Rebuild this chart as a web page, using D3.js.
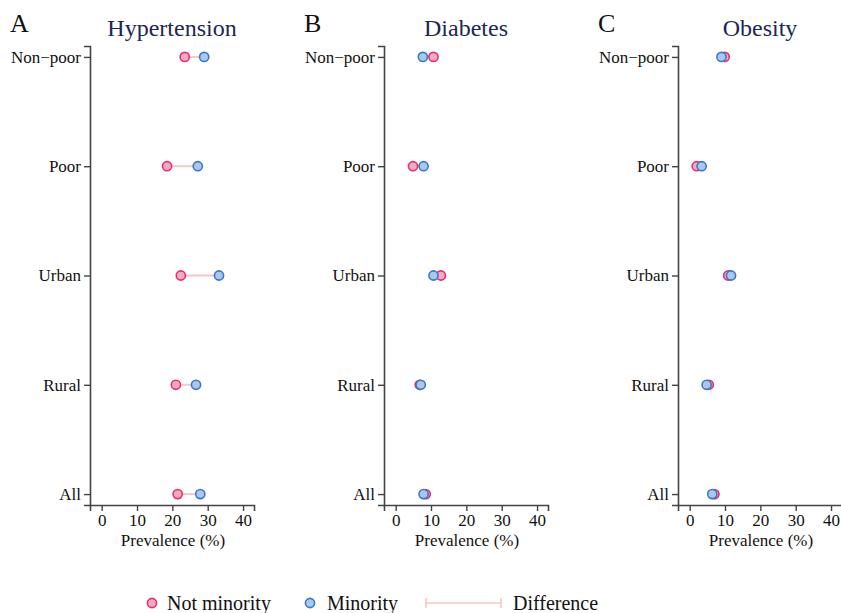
<!DOCTYPE html>
<html>
<head>
<meta charset="utf-8">
<script src="https://cdn.jsdelivr.net/npm/d3@7"></script>
<style>
  html, body { margin: 0; padding: 0; background: #fff; }
  svg { display: block; }
  svg text { font-family: "Liberation Serif", "Times New Roman", Times, serif !important; }
</style>
</head>
<body>
<svg id="chart" width="841" height="613"></svg>
<script>
// ---- Data ----
const categories = ["Non\u2212poor", "Poor", "Urban", "Rural", "All"];
const panelLetters = ["A", "B", "C"];
const panelTitles = ["Hypertension", "Diabetes", "Obesity"];
// Prevalence (%) per category, in the order of `categories`
const hypertensionNotMinority = [23.5, 18.5, 22.4, 21.0, 21.5];
const hypertensionMinority    = [29.0, 27.2, 33.2, 26.7, 27.9];
const diabetesNotMinority     = [10.7, 4.9, 12.8, 6.8, 8.5];
const diabetesMinority        = [7.7, 7.9, 10.7, 7.1, 7.9];
const obesityNotMinority      = [9.9, 2.0, 10.9, 5.4, 7.0];
const obesityMinority         = [9.0, 3.4, 11.7, 4.8, 6.4];
const xTicks = [0, 10, 20, 30, 40];
const xLabel = "Prevalence (%)";
const legendLabels = ["Not minority", "Minority", "Difference"];

const panels = [
  { notMin: hypertensionNotMinority, min: hypertensionMinority },
  { notMin: diabetesNotMinority, min: diabetesMinority },
  { notMin: obesityNotMinority, min: obesityMinority }
];

// ---- Styles ----
const FONT = "'Liberation Serif', 'Times New Roman', Times, serif";
const pinkStroke = "#e5306b", pinkFill = "#f5a9c3";
const blueStroke = "#3b78c8", blueFill = "#a8c8ee";
const diffColor = "#f8c6c6";
const axisColor = "#444";
const titleColor = "#1c2752";

const svg = d3.select("#chart");

const panelX0 = [90, 384, 678];
const axisTop = 46, axisBottom = 505;
const axisWidth = 164;

const y = d3.scalePoint().domain(categories).range([axisTop, axisBottom]).padding(0.1);

panels.forEach((p, i) => {
  const x0 = panelX0[i];
  const x = d3.scaleLinear().domain([-3.3, 43.1]).range([x0, x0 + axisWidth]);
  const g = svg.append("g");

  // y axis
  const ya = g.append("g").attr("transform", `translate(${x0},0)`)
    .call(d3.axisLeft(y).tickSizeOuter(0).tickSize(6).tickPadding(3));
  ya.attr("font-family", FONT).attr("font-size", 17);
  ya.select(".domain").attr("stroke", axisColor).attr("stroke-width", 1.6);
  ya.selectAll(".tick line").attr("stroke", axisColor).attr("stroke-width", 1.4);
  ya.selectAll(".tick text").style("font-size", "17px").attr("fill", "#111")
    .style("font-family", FONT);

  // x axis
  const xa = g.append("g").attr("transform", `translate(0,${axisBottom})`)
    .call(d3.axisBottom(x).tickValues(xTicks).tickSizeOuter(0).tickSize(6).tickPadding(3));
  xa.attr("font-family", FONT).attr("font-size", 17);
  xa.select(".domain").attr("stroke", axisColor).attr("stroke-width", 1.6);
  xa.selectAll(".tick line").attr("stroke", axisColor).attr("stroke-width", 1.4);
  xa.selectAll(".tick text").style("font-size", "17px").attr("fill", "#111")
    .style("font-family", FONT);

  // x label
  g.append("text").attr("x", x0 + axisWidth / 2 + 1).attr("y", 546)
    .attr("text-anchor", "middle").style("font-size", "17px").attr("fill", "#111")
    .style("font-family", FONT)
    .text(xLabel);

  // title
  g.append("text").attr("x", x0 + axisWidth / 2).attr("y", 36)
    .attr("text-anchor", "middle").style("font-size", "24px").attr("fill", titleColor)
    .style("font-family", FONT)
    .text(panelTitles[i]);

  // panel letter
  g.append("text").attr("x", x0 - 80).attr("y", 32)
    .style("font-size", "26px").attr("fill", "#111")
    .style("font-family", FONT)
    .text(panelLetters[i]);

  const rows = categories.map((c, j) => ({ c, a: p.notMin[j], b: p.min[j] }));

  // difference lines
  g.selectAll(".diff").data(rows).join("line")
    .attr("x1", d => x(d.a)).attr("x2", d => x(d.b))
    .attr("y1", d => y(d.c)).attr("y2", d => y(d.c))
    .attr("stroke", diffColor).attr("stroke-width", 2);

  // not minority
  g.selectAll(".nm").data(rows).join("circle")
    .attr("cx", d => x(d.a)).attr("cy", d => y(d.c)).attr("r", 4.6)
    .attr("fill", pinkFill).attr("stroke", pinkStroke).attr("stroke-width", 1.6);

  // minority
  g.selectAll(".mi").data(rows).join("circle")
    .attr("cx", d => x(d.b)).attr("cy", d => y(d.c)).attr("r", 4.6)
    .attr("fill", blueFill).attr("stroke", blueStroke).attr("stroke-width", 1.6);
});

// ---- Legend ----
const lg = svg.append("g").style("font-family", FONT);
const ly = 603;
lg.append("circle").attr("cx", 152).attr("cy", ly).attr("r", 4.6)
  .attr("fill", pinkFill).attr("stroke", pinkStroke).attr("stroke-width", 1.6);
lg.append("text").attr("x", 167).attr("y", ly + 7).style("font-size", "20px").attr("fill", "#111")
  .style("font-family", FONT).text(legendLabels[0]);
lg.append("circle").attr("cx", 310).attr("cy", ly).attr("r", 4.6)
  .attr("fill", blueFill).attr("stroke", blueStroke).attr("stroke-width", 1.6);
lg.append("text").attr("x", 327).attr("y", ly + 7).style("font-size", "20px").attr("fill", "#111")
  .style("font-family", FONT).text(legendLabels[1]);
lg.append("line").attr("x1", 426).attr("x2", 501).attr("y1", ly).attr("y2", ly)
  .attr("stroke", diffColor).attr("stroke-width", 1.6);
lg.append("line").attr("x1", 426).attr("x2", 426).attr("y1", ly - 5).attr("y2", ly + 5)
  .attr("stroke", diffColor).attr("stroke-width", 1.6);
lg.append("line").attr("x1", 501).attr("x2", 501).attr("y1", ly - 5).attr("y2", ly + 5)
  .attr("stroke", diffColor).attr("stroke-width", 1.6);
lg.append("text").attr("x", 513).attr("y", ly + 7).style("font-size", "20px").attr("fill", "#111")
  .style("font-family", FONT).text(legendLabels[2]);
</script>
</body>
</html>
